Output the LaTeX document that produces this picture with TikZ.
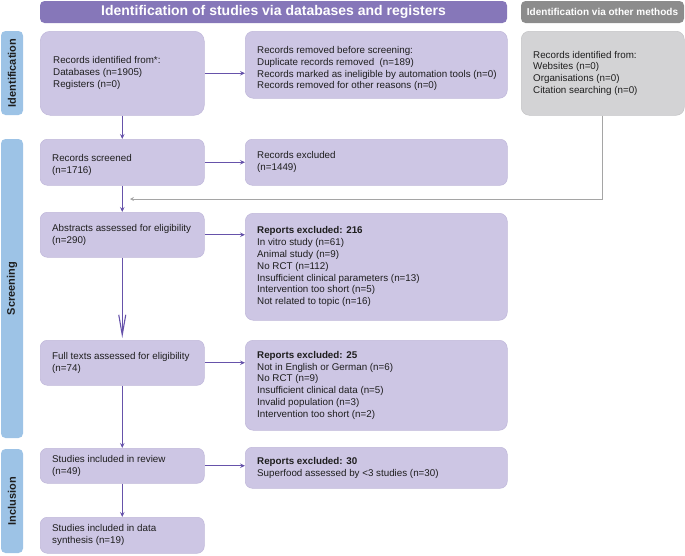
\documentclass[tikz,border=0pt]{standalone}
\usepackage{fontspec}
\setmainfont{Liberation Sans}
\usetikzlibrary{arrows.meta,calc}
\definecolor{lav}{RGB}{205,198,228}
\definecolor{lavedge}{RGB}{192,184,218}
\definecolor{hpurple}{RGB}{134,119,185}
\definecolor{apurple}{RGB}{102,82,170}
\definecolor{hgray}{RGB}{140,140,140}
\definecolor{bgray}{RGB}{211,211,213}
\definecolor{gedge}{RGB}{196,196,198}
\definecolor{lblue}{RGB}{157,195,230}
\definecolor{lgray}{RGB}{165,165,165}
\definecolor{txtc}{RGB}{30,30,30}
\newcommand\mkbox[8][]{%
  \node[#2, minimum width={#6-#4}, minimum height={#7-#5}, anchor=north west] (#3) at (#4,#5) {};
  \node[txt, anchor=west, #1] (#3t) at ([xshift=12pt]#3.west) {#8};
}
\tikzset{
  pbox/.style={fill=lav, draw=lavedge, line width=0.5pt, rounded corners=7pt, inner sep=0pt},
  gbox/.style={pbox, fill=bgray, draw=gedge},
  txt/.style={inner sep=0pt, align=left, font=\fontsize{9.8}{11.8}\selectfont, text=txtc},
  sidelab/.style={fill=lblue, rounded corners=4.5pt, inner sep=0pt, rotate=90, font=\bfseries\fontsize{11}{13}\selectfont, text=txtc},
  hdr/.style={fill=hpurple, rounded corners=4.5pt, inner sep=0pt, text=white, font=\bfseries\fontsize{14}{16}\selectfont},
  hdrgray/.style={hdr, fill=hgray, font=\bfseries\fontsize{10}{12}\selectfont},
  parr/.style={draw=apurple, line width=1.1pt, -{Stealth[length=5pt,width=4.5pt,inset=1.8pt]}},
  garr/.style={draw=lgray, line width=0.9pt, -{Stealth[length=4pt,width=4pt,inset=1.5pt]}},
  longarr/.style={draw=apurple, line width=1.1pt, -{Straight Barb[length=20pt,width=7pt]}},
}
\begin{document}
\begin{tikzpicture}[x=1pt,y=-1pt]
\useasboundingbox (0,0) rectangle (685,555);
% headers
\node[hdr, minimum width=467pt, minimum height=22pt] (h1) at (273.5,12) {Identification of studies via databases and registers};
\node[hdrgray, minimum width=163pt, minimum height=22pt] (h2) at (602.5,12) {Identification via other methods};
% side labels
\node[sidelab, minimum width=84pt, minimum height=22pt] (lid) at (12,73) {Identification};
\node[sidelab, minimum width=299pt, minimum height=22pt] (lsc) at (12,288.5) {Screening};
\node[sidelab, minimum width=104pt, minimum height=22pt] (lin) at (12,501) {Inclusion};
% boxes
\mkbox[xshift=1pt]{pbox, rounded corners=10pt}{A}{40}{31}{204}{115}{Records identified from*:\\Databases (n=1905)\\Registers (n=0)}
\mkbox[yshift=-4pt]{pbox, rounded corners=8pt}{B}{245}{31}{507}{98}{Records removed before screening:\\Duplicate records removed\ \ (n=189)\\Records marked as ineligible by automation tools (n=0)\\Records removed for other reasons (n=0)}
\mkbox{gbox, rounded corners=8pt}{C}{521}{31}{684}{115}{Records identified from:\\Websites (n=0)\\Organisations (n=0)\\Citation searching (n=0)}
\mkbox[yshift=-3pt]{pbox}{D}{40}{139}{204}{185}{Records screened\\(n=1716)}
\mkbox{pbox}{Dx}{245}{139}{507}{185}{Records excluded\\(n=1449)}
\mkbox{pbox}{E}{40}{212}{204}{257}{Abstracts assessed for eligibility\\(n=290)}
\mkbox{pbox, rounded corners=8pt}{Ex}{245}{213}{507}{320}{\textbf{Reports excluded: 216}\\In vitro study (n=61)\\Animal study (n=9)\\No RCT (n=112)\\Insufficient clinical parameters (n=13)\\Intervention too short (n=5)\\Not related to topic (n=16)}
\mkbox{pbox}{F}{40}{340}{204}{385}{Full texts assessed for eligibility\\(n=74)}
\mkbox{pbox, rounded corners=8pt}{Fx}{245}{340}{507}{430}{\textbf{Reports excluded: 25}\\Not in English or German (n=6)\\No RCT (n=9)\\Insufficient clinical data (n=5)\\Invalid population (n=3)\\Intervention too short (n=2)}
\mkbox{pbox}{G}{40}{448}{204}{483}{Studies included in review\\(n=49)}
\mkbox{pbox}{Gx}{245}{447}{507}{488}{\textbf{Reports excluded: 30}\\Superfood assessed by <3 studies (n=30)}
\mkbox{pbox}{H}{40}{517}{204}{553}{Studies included in data\\synthesis (n=19)}
% connectors
\coordinate (gend) at (130,199);
\draw[garr] (C.south) |- (gend);
\draw[parr] (A.east) -- (A.east -| B.west);
\draw[parr] (A.south) -- (D.north);
\draw[parr] (D.east) -- (D.east -| Dx.west);
\draw[parr] (D.south) -- (E.north);
\draw[parr] (E.east) -- (E.east -| Ex.west);
\draw[longarr, shorten >=2pt] (E.south) -- (F.north);
\draw[parr] (F.east) -- (F.east -| Fx.west);
\draw[parr] (F.south) -- (G.north);
\draw[parr] (G.east) -- (G.east -| Gx.west);
\draw[parr] (G.south) -- (H.north);
\end{tikzpicture}
\end{document}
